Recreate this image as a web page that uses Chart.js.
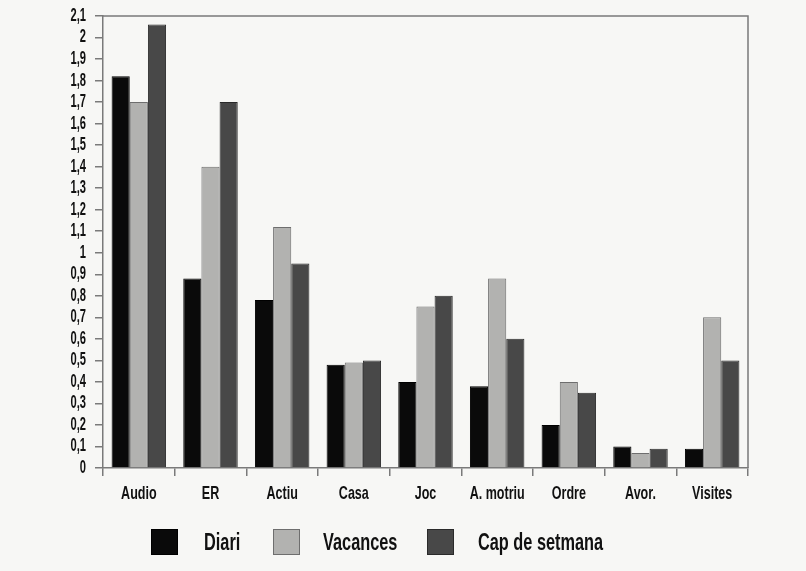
<!DOCTYPE html>
<html>
<head>
<meta charset="utf-8">
<script src="https://cdn.jsdelivr.net/npm/chart.js@4/dist/chart.umd.min.js"></script>
<style>
  html, body { margin: 0; padding: 0; background: #f7f7f5; }
  #wrap { position: relative; width: 806px; height: 571px; }
  #legend {
    position: absolute; left: 0; top: 529px; width: 806px; height: 28px;
    font-family: "Liberation Sans", "DejaVu Sans", sans-serif;
    font-weight: bold; font-size: 24px; color: #111;
  }
  .box { position: absolute; top: 0; width: 25px; height: 24px; border: 1px solid #333; }
  .label {
    position: absolute; top: 0; height: 26px; line-height: 26px; white-space: nowrap;
    transform: scaleX(0.68); transform-origin: left center;
  }
</style>
</head>
<body>
<div id="wrap">
  <canvas id="chart" width="806" height="571"></canvas>
  <div id="legend"></div>
</div>
<script>
// categories and series values
const categories = ['Audio', 'ER', 'Actiu', 'Casa', 'Joc', 'A. motriu', 'Ordre', 'Avor.', 'Visites'];
const diari = [1.82, 0.88, 0.78, 0.48, 0.40, 0.38, 0.20, 0.10, 0.09];
const vacances = [1.70, 1.40, 1.12, 0.49, 0.75, 0.88, 0.40, 0.07, 0.70];
const capSetmana = [2.06, 1.70, 0.95, 0.50, 0.80, 0.60, 0.35, 0.09, 0.50];
const seriesNames = ['Diari', 'Vacances', 'Cap de setmana'];

const fontFamily = '"Liberation Sans", "DejaVu Sans", sans-serif';

const makeSet = (label, data, fill, border) => ({
    label,
    data,
    backgroundColor: fill,
    borderColor: border,
    borderWidth: 1,
    categoryPercentage: 0.76,
    barPercentage: 1.0,
});

// top and right frame lines of the plot box, plus narrow tick text
// (no condensed face is installed, so the tick text is squeezed sideways)
const frame = {
    id: 'frame',
    beforeDraw(chart) {
        const ctx = chart.ctx;
        const orig = ctx.fillText;
        ctx._origFillText = orig;
        ctx.fillText = function (text, x, y) {
            const squeeze = this.font.includes('18px') ? 0.62 : 0.66;
            this.save();
            this.translate(x, y);
            this.scale(squeeze, 1);
            orig.call(this, text, 0, 0);
            this.restore();
        };
    },
    afterDraw(chart) {
        const { ctx, chartArea: a } = chart;
        ctx.fillText = ctx._origFillText;
        ctx.save();
        ctx.strokeStyle = '#7a7a7a';
        ctx.lineWidth = 1.5;
        ctx.beginPath();
        ctx.moveTo(a.left, a.top);
        ctx.lineTo(a.right, a.top);
        ctx.lineTo(a.right, a.bottom);
        ctx.stroke();
        ctx.restore();
    }
};

const chart = new Chart(document.getElementById('chart').getContext('2d'), {
    type: 'bar',
    data: {
        labels: categories,
        datasets: [
            makeSet(seriesNames[0], diari, '#0a0a0a', '#000000'),
            makeSet(seriesNames[1], vacances, '#b2b2b0', '#6e6e6e'),
            makeSet(seriesNames[2], capSetmana, '#484848', '#2a2a2a'),
        ]
    },
    options: {
        responsive: false,
        animation: false,
        layout: { padding: { left: 0, top: 16, right: 58, bottom: 63 } },
        plugins: {
            legend: { display: false },
            tooltip: { enabled: false },
        },
        scales: {
            x: {
                grid: { offset: true, drawOnChartArea: false, drawTicks: true, tickLength: 8, color: '#7a7a7a', lineWidth: 1.5 },
                border: { display: true, color: '#7a7a7a', width: 1.5 },
                ticks: {
                    color: '#111',
                    padding: 6,
                    maxRotation: 0,
                    autoSkip: false,
                    font: { family: fontFamily, size: 19, weight: 'bold' },
                },
                afterFit: (scale) => {
                    scale.height = 40;
                    scale.paddingLeft = 0;
                    scale.paddingRight = 0;
                },
            },
            y: {
                min: 0,
                max: 2.1,
                grid: { drawOnChartArea: false, drawTicks: true, tickLength: 8, color: '#7a7a7a', lineWidth: 1.5 },
                border: { display: true, color: '#7a7a7a', width: 1.5 },
                ticks: {
                    stepSize: 0.1,
                    color: '#111',
                    padding: 9,
                    autoSkip: false,
                    font: { family: fontFamily, size: 18, weight: 'bold' },
                    callback: (v) => String(Math.round(v * 10) / 10).replace('.', ','),
                },
                afterFit: (scale) => {
                    scale.width = 103;
                    scale.paddingTop = 0;
                    scale.paddingBottom = 0;
                },
            },
        },
    },
    plugins: [frame],
});

// legend below the chart, built from the datasets
const legendBoxX = [151, 273, 427];
const legendTextX = [204, 323, 478];
const legend = document.getElementById('legend');
chart.data.datasets.forEach((ds, i) => {
    const box = document.createElement('div');
    box.className = 'box';
    box.style.left = legendBoxX[i] + 'px';
    box.style.background = ds.backgroundColor;
    box.style.borderColor = ds.borderColor;
    const label = document.createElement('div');
    label.className = 'label';
    label.style.left = legendTextX[i] + 'px';
    label.textContent = ds.label;
    legend.appendChild(box);
    legend.appendChild(label);
});
</script>
</body>
</html>
